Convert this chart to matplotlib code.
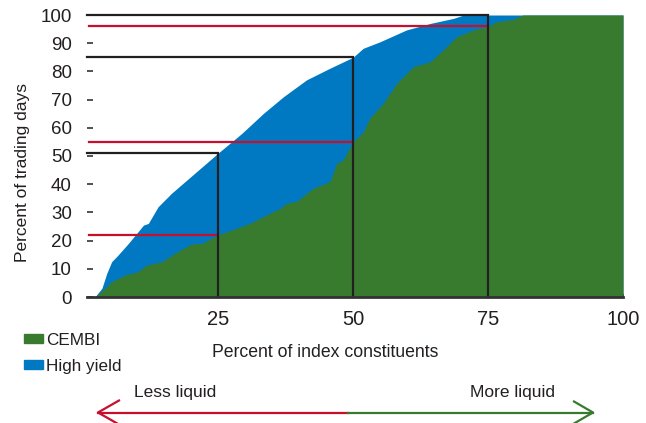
#!/usr/bin/env python3
"""Cumulative liquidity curves: CEMBI vs high yield."""

import matplotlib.pyplot as plt
from matplotlib.patches import Rectangle

# high-yield curve (percent of constituents, percent of trading days)
HY_X = [2.2, 3.5, 4.4, 5.3, 6.5, 8.4, 11.2, 12.1, 13.9, 16.4, 20.7, 25.0, 29.4,
        33.4, 37.1, 41.4, 45.7, 50.0, 51.9, 55.0, 59.9, 64.3, 68.6, 70.5, 100.0]
HY_Y = [0, 3.1, 8.4, 12.5, 14.9, 19.0, 25.5, 26.1, 32.0, 36.8, 43.9, 51.0, 58.0,
        65.1, 71.0, 77.0, 81.1, 85.0, 88.2, 90.5, 94.7, 97.0, 98.8, 100, 100]

# CEMBI curve
CE_X = [2.2, 4.1, 5.3, 7.8, 10.2, 11.8, 14.6, 17.0, 20.1, 22.0, 25.0, 30.9, 34.6,
        36.5, 37.7, 39.6, 42.6, 45.7, 47.0, 48.2, 50.0, 51.9, 53.1, 55.6, 58.1,
        61.2, 64.3, 66.7, 69.2, 72.3, 75.0, 76.6, 79.7, 81.5, 100.0]
CE_Y = [0, 3.1, 5.4, 7.8, 9.0, 11.3, 12.5, 15.5, 18.8, 19.0, 22.0, 26.1, 29.7,
        31.4, 33.2, 34.0, 38.5, 40.9, 47.4, 48.6, 55.0, 58.5, 63.4, 68.7, 75.8,
        81.7, 83.4, 87.6, 92.3, 94.7, 96.0, 97.6, 98.5, 100, 100]

# read-off markers at the quartiles
MARK_X = [25, 50, 75]
HY_MARK = [51, 85, 100]
CE_MARK = [22, 55, 96]

GREEN = "#387b2f"
BLUE = "#0079c2"
RED = "#c8102e"
DARK = "#231f20"

plt.rcParams["font.family"] = ["Liberation Sans", "DejaVu Sans"]

fig = plt.figure(figsize=(6.46, 4.23), dpi=100)
ax = fig.add_axes([87 / 646, 126 / 423, 536 / 646, 282 / 423])
XMIN = 0.74
ax.set_xlim(XMIN, 100)
ax.set_ylim(0, 100)

ax.fill_between(HY_X, 0, HY_Y, color=BLUE, lw=0, zorder=1)
ax.fill_between(CE_X, 0, CE_Y, color=GREEN, lw=0, zorder=2)

for x, hy, ce in zip(MARK_X, HY_MARK, CE_MARK):
    ax.plot([XMIN, x, x], [hy, hy, 0], color=DARK, lw=1.6, zorder=4,
            solid_joinstyle="miter", clip_on=False)
    ax.plot([XMIN + 0.4, x], [ce, ce], color=RED, lw=1.6, zorder=3, clip_on=False)

for s in ("top", "right", "left"):
    ax.spines[s].set_visible(False)
ax.spines["bottom"].set_color("#333333")
ax.spines["bottom"].set_linewidth(2)
ax.spines["bottom"].set_zorder(5)

ax.set_yticks(range(0, 101, 10))
ax.set_xticks([25, 50, 75, 100])
ax.tick_params(axis="y", direction="in", length=4.5, width=1.2, color="#333333",
               labelsize=13.5, pad=11, labelcolor=DARK)
ax.tick_params(axis="x", direction="in", length=2.5, width=1.2, color="#333333",
               labelsize=14.5, pad=9, labelcolor=DARK)

fig.text(23 / 646, 1 - 173 / 423, "Percent of trading days", fontsize=12.5,
         rotation=90, ha="center", va="center", color=DARK)
fig.text(325 / 646, 1 - 352 / 423, "Percent of index constituents", fontsize=12.7,
         ha="center", va="center", color=DARK)

# legend
for i, (label, col) in enumerate([("CEMBI", GREEN), ("High yield", BLUE)]):
    yc = 338.5 + i * 26
    fig.patches.append(Rectangle((24 / 646, 1 - (yc + 4.5) / 423), 19 / 646, 9 / 423,
                                 transform=fig.transFigure, color=col))
    fig.text(46 / 646, 1 - (yc + 2) / 423, label, fontsize=12.3, ha="left",
             va="center", color=DARK)

# liquidity arrows
ya = 1 - 412.5 / 423
fig.add_artist(plt.Line2D([98 / 646, 348 / 646], [ya, ya], color=RED, lw=1.6))
fig.add_artist(plt.Line2D([119 / 646, 98 / 646, 119 / 646],
                          [ya + 12 / 423, ya, ya - 12 / 423], color=RED, lw=1.6))
fig.add_artist(plt.Line2D([348 / 646, 593 / 646], [ya, ya], color=GREEN, lw=1.6))
fig.add_artist(plt.Line2D([574 / 646, 593 / 646, 574 / 646],
                          [ya + 11 / 423, ya, ya - 11 / 423], color=GREEN, lw=1.6))
fig.text(175 / 646, 1 - 392 / 423, "Less liquid", fontsize=12.5, ha="center",
         va="center", color=DARK)
fig.text(513 / 646, 1 - 392 / 423, "More liquid", fontsize=12.5, ha="center",
         va="center", color=DARK)

fig.savefig("out.png", dpi=100)
